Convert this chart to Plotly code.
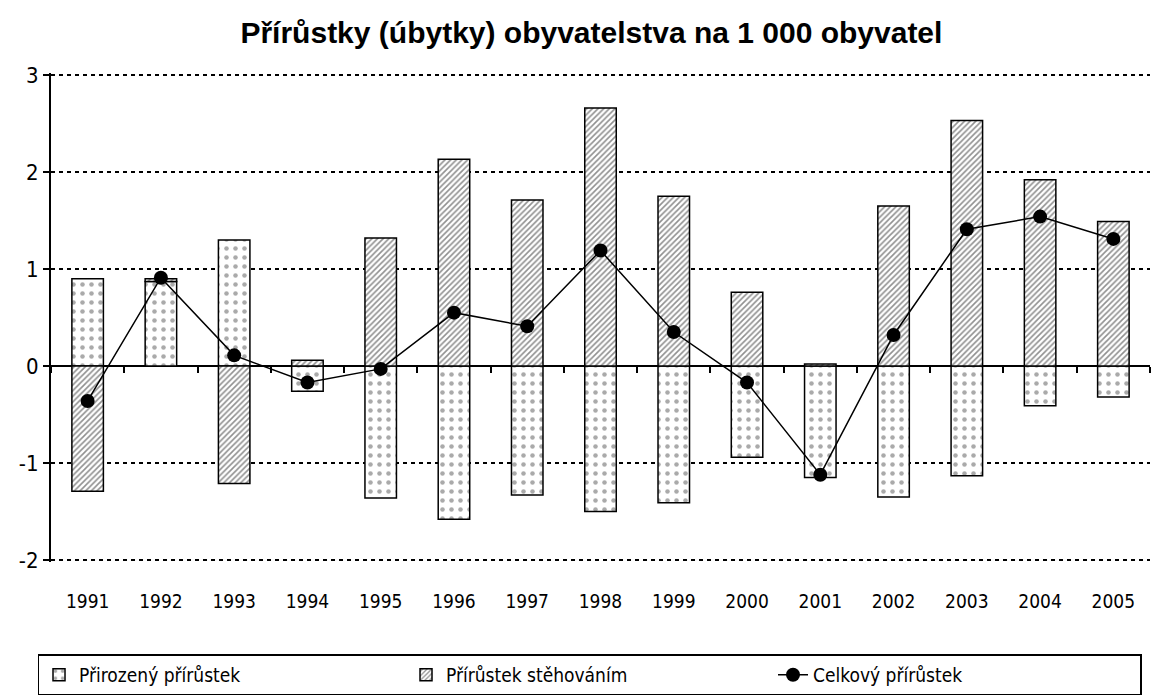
import plotly.graph_objects as go

# roky
roky = [str(r) for r in range(1991, 2006)]

# hodnoty na 1 000 obyvatel
prirozeny = [0.90, 0.87, 1.30, -0.26, -1.36, -1.58, -1.33, -1.50, -1.41, -0.94, -1.15, -1.35, -1.13, -0.41, -0.32]
stehovani = [-1.29, 0.03, -1.21, 0.06, 1.32, 2.13, 1.71, 2.66, 1.75, 0.76, 0.02, 1.65, 2.53, 1.92, 1.49]
celkovy = [-0.36, 0.91, 0.11, -0.17, -0.03, 0.55, 0.41, 1.19, 0.35, -0.17, -1.12, 0.32, 1.41, 1.54, 1.31]

y_ticks = [-2, -1, 0, 1, 2, 3]
y_labels = ['-2', '-1', '0', '1', '2', '3']

font_narrow = "DejaVu Sans Condensed, Liberation Sans Narrow, Arial Narrow, Liberation Sans, Arial"

fig = go.Figure()
fig.add_trace(go.Bar(
    x=roky, y=prirozeny, name='Přirozený přírůstek',
    marker=dict(color='white', line=dict(color='black', width=1.5),
                pattern=dict(shape='.', fgcolor='#555555', bgcolor='white', size=9, solidity=0.2)),
))
fig.add_trace(go.Bar(
    x=roky, y=stehovani, name='Přírůstek stěhováním',
    marker=dict(color='white', line=dict(color='black', width=1.5),
                pattern=dict(shape='/', fgcolor='#222222', bgcolor='white', size=4, solidity=0.4)),
))
fig.add_trace(go.Scatter(
    x=roky, y=celkovy, name='Celkový přírůstek', mode='lines+markers',
    line=dict(color='black', width=1.5),
    marker=dict(color='black', size=14),
))
# druhá osa jen pro popisky let dole
fig.add_trace(go.Scatter(x=roky, y=celkovy, xaxis='x2', showlegend=False,
                         mode='markers', marker=dict(opacity=0), hoverinfo='skip'))

# stránka má okraj 8 px, proto menší rozměry
fig.update_layout(
    title=dict(text='<b>Přírůstky (úbytky) obyvatelstva na 1 000 obyvatel</b>',
               x=0.506, xanchor='center', y=0.965, yanchor='middle',
               font=dict(family='Liberation Sans, Arial', size=30, color='black')),
    barmode='relative',
    bargap=0.57,
    width=1153, height=692,
    margin=dict(l=40, r=11, t=65, b=138),
    plot_bgcolor='white', paper_bgcolor='white',
    font=dict(family=font_narrow, size=20, color='black'),
    # hlavní osa x: značky na nulové ose
    xaxis=dict(type='category', anchor='free', position=0.4008,
               range=[-0.5, 14.5], showgrid=False, showline=False, showticklabels=False,
               ticks='outside', tickson='boundaries', ticklen=6, tickwidth=1.5, tickcolor='black'),
    xaxis2=dict(type='category', overlaying='x', anchor='y', side='bottom',
                range=[-0.5, 14.5], showgrid=False, showline=False, ticks='',
                ticklabelstandoff=26, tickfont=dict(family=font_narrow, size=19)),
    yaxis=dict(range=[-2.02, 3.02], tickvals=y_ticks, ticktext=y_labels,
               showline=True, linecolor='black', linewidth=2,
               ticks='outside', ticklen=6, tickwidth=1.5, tickcolor='black',
               showgrid=True, gridcolor='black', gridwidth=2, griddash='4px,4px',
               zeroline=True, zerolinecolor='black', zerolinewidth=1.5,
               tickfont=dict(family=font_narrow, size=22)),
    legend=dict(orientation='h', x=0.49, xanchor='center',
                yref='container', y=0.066, yanchor='top',
                bordercolor='black', borderwidth=1.5, entrywidth=322,
                font=dict(family=font_narrow, size=19)),
)

fig.write_html("out.html")
